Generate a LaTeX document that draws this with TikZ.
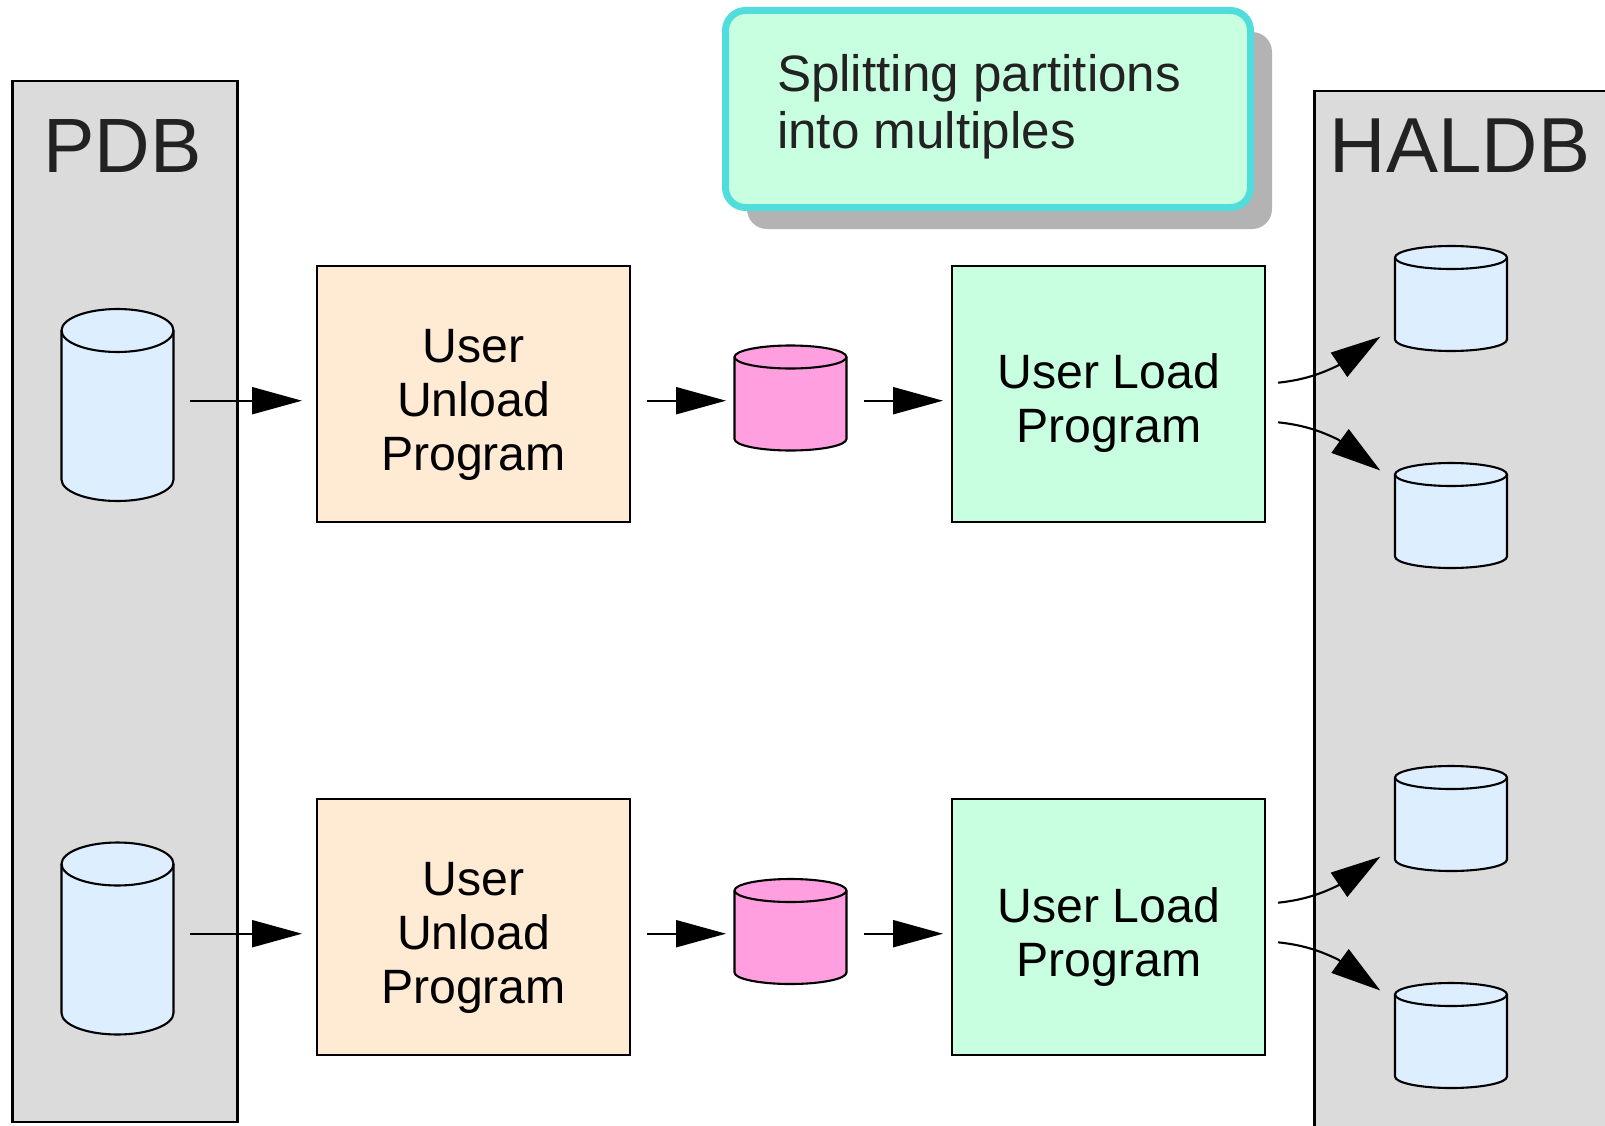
\documentclass[tikz,border=0pt]{standalone}
\usepackage{fontspec}
\setmainfont{Liberation Sans}
\usetikzlibrary{arrows.meta,calc}
\definecolor{panelgray}{HTML}{DBDBDB}
\definecolor{inkdark}{HTML}{222222}
\definecolor{cylblue}{HTML}{DCEEFF}
\definecolor{peach}{HTML}{FFEAD3}
\definecolor{mint}{HTML}{C8FFE0}
\definecolor{pinkfill}{HTML}{FF9FE0}
\definecolor{teal2}{HTML}{52DDDD}
\definecolor{shadowgray}{HTML}{B3B3B3}
\tikzset{
  x=1pt,y=-1pt,
  every node/.style={inner sep=0pt,outer sep=0pt},
  panel/.style={draw=black,line width=2.1pt,fill=panelgray,rectangle},
  paneltext/.style={anchor=base,text=inkdark,font=\fontsize{78}{80}\selectfont},
  progbox/.style={draw=black,line width=2.1pt,rectangle,minimum width=313pt,minimum height=256pt},
  progtext/.style={align=center,font=\fontsize{48.2}{54}\selectfont},
  notetext/.style={anchor=base west,text=inkdark,font=\fontsize{51.2}{57}\selectfont},
  cylspot/.style={rectangle,minimum width=112pt},
  cylline/.style={draw=black,line width=2.1pt,line join=round},
  flow/.style={draw=black,line width=2.1pt,-{Triangle[length=50pt,width=27pt]}},
  curveflow/.style={draw=black,line width=2.1pt,-{Triangle[length=50pt,width=29pt]}},
}
% name, x, y, half length of the side, radius of the end, fill
\newcommand{\cylnode}[6]{%
  \node[cylspot,minimum height=#4*2pt] (#1) at (#2,#3) {};
  \path[cylline,fill=#6] ([shift={(-56,-#4)}]#1.center) -- ([shift={(-56,#4)}]#1.center)
     arc[start angle=180,end angle=360,x radius=56pt,y radius=#5 pt]
     -- ([shift={(56,-#4)}]#1.center)
     arc[start angle=0,end angle=180,x radius=56pt,y radius=#5 pt] -- cycle;
  \path[cylline] ([shift={(-56,-#4)}]#1.center)
     arc[start angle=180,end angle=360,x radius=56pt,y radius=#5 pt];
}
\begin{document}
\begin{tikzpicture}
\useasboundingbox (0,0) rectangle (1605,1126);
\begin{scope}
\clip (0,0) rectangle (1605,1126);
% panels
\node[panel,minimum width=225pt,minimum height=1041pt] (pdb) at (125,601.5) {};
\node[panel,minimum width=325pt,minimum height=1069pt] (haldb) at (1477,625.5) {};
\node[paneltext,font=\fontsize{77}{80}\selectfont] (pdbt) at (122.5,173) {PDB};
\node[paneltext] (haldbt) at (1460,173) {HALDB};
% callout
\node[fill=shadowgray,rounded corners=20pt,minimum width=525pt,minimum height=197pt] (shadow) at (1009.5,130.5) {};
\node[draw=teal2,line width=7pt,fill=mint,rounded corners=20pt,minimum width=525pt,minimum height=197pt] (note) at (988,109) {};
\node[notetext] (note1) at (777,92) {Splitting partitions};
\node[notetext] (note2) at (777,148.5) {into multiples};
% source cylinders
\cylnode{c1}{117.5}{405}{74.5}{21.5}{cylblue}
\cylnode{c2}{117.5}{938.5}{74.5}{21.5}{cylblue}
% program boxes
\node[progbox,fill=peach] (u1) at (473.3,394) {};
\node[progbox,fill=peach] (u2) at (473.3,927) {};
\node[progbox,fill=mint] (l1) at (1108.5,394) {};
\node[progbox,fill=mint] (l2) at (1108.5,927) {};
\node[progtext] (u1t) at ([shift={(0.2,11)}]u1.center) {User\\Unload\\Program};
\node[progtext] (u2t) at ([shift={(0.2,11)}]u2.center) {User\\Unload\\Program};
\node[progtext] (l1t) at ([shift={(0.5,9)}]l1.center) {User Load\\Program};
\node[progtext] (l2t) at ([shift={(0.5,10)}]l2.center) {User Load\\Program};
% intermediate cylinders
\cylnode{p1}{790.5}{398}{41}{11.5}{pinkfill}
\cylnode{p2}{790.5}{931.5}{41}{11.5}{pinkfill}
% target cylinders
\cylnode{t1}{1451}{298.5}{41}{11.5}{cylblue}
\cylnode{t2}{1451}{515.5}{41}{11.5}{cylblue}
\cylnode{t3}{1451}{818.5}{41}{11.5}{cylblue}
\cylnode{t4}{1451}{1035.5}{41}{11.5}{cylblue}
% connectors
\draw[flow] ([shift={(72.5,-4.3)}]c1.center) -- ([shift={(-171.3,6.7)}]u1.center);
\draw[flow] ([shift={(72.5,-4.8)}]c2.center) -- ([shift={(-171.3,6.7)}]u2.center);
\draw[flow] ([shift={(173.7,6.7)}]u1.center) -- ([shift={(-64.5,2.7)}]p1.center);
\draw[flow] ([shift={(173.7,6.7)}]u2.center) -- ([shift={(-64.5,2.2)}]p2.center);
\draw[flow] ([shift={(73.5,2.7)}]p1.center) -- ([shift={(-165.5,6.7)}]l1.center);
\draw[flow] ([shift={(73.5,2.2)}]p2.center) -- ([shift={(-165.5,6.7)}]l2.center);
\foreach \a/\b/\c/\d in {l1/t1/t2/0,l2/t3/t4/-13}{
  \draw[curveflow] ([shift={(169.5,-11.3+\d)}]\a.center) .. controls ([shift={(195,-14+\d)}]\a.center) and ([shift={(212,-20+\d)}]\a.center) .. ([shift={(229.5,-28.5+\d)}]\a.center) -- ([shift={(-70.7,38.2)}]\b.center);
  \draw[curveflow] ([shift={(169.5,28.3+\d)}]\a.center) .. controls ([shift={(195,31+\d)}]\a.center) and ([shift={(212,37+\d)}]\a.center) .. ([shift={(229.5,45.5+\d)}]\a.center) -- ([shift={(-70.7,-45)}]\c.center);
}
\end{scope}
\end{tikzpicture}
\end{document}
